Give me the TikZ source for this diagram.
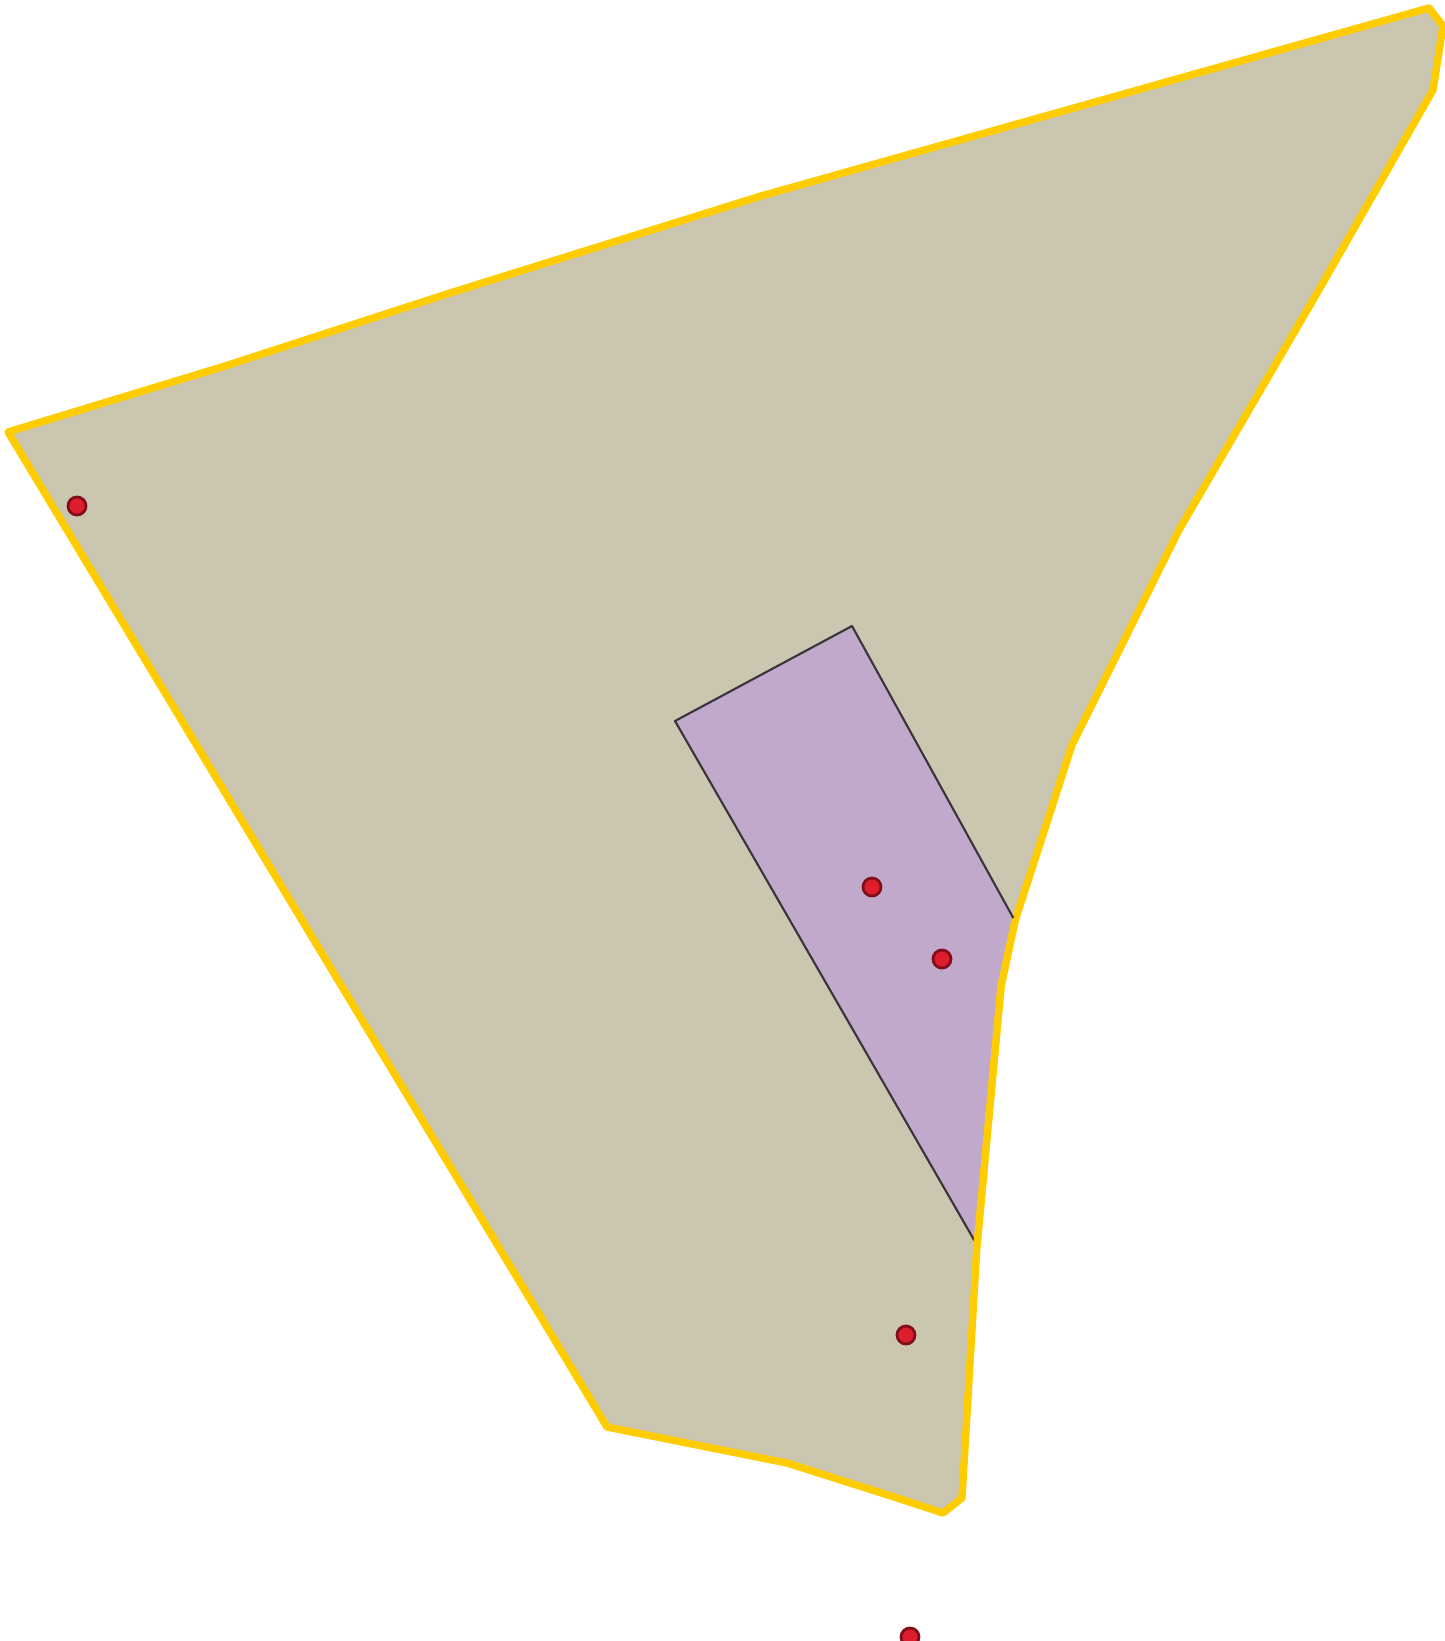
\documentclass[tikz,border=0pt]{standalone}
\usepackage{tikz}

\definecolor{landfill}{RGB}{203,198,175}
\definecolor{landline}{RGB}{255,204,0}
\definecolor{zonefill}{RGB}{193,169,204}
\definecolor{zoneline}{RGB}{58,52,58}
\definecolor{sitefill}{RGB}{222,30,45}
\definecolor{siteline}{RGB}{130,14,28}

\begin{document}
\begin{tikzpicture}[
        x=0.01cm, y=-0.01cm,
        area/.style={fill=landfill, draw=landline, line width=2.1pt, line join=round},
        zone/.style={draw=zoneline, line width=0.6pt, line join=round},
        border/.style={draw=landline, line width=2.1pt, line join=round, line cap=round},
        site/.style={circle, fill=sitefill, draw=siteline, line width=0.8pt, minimum size=0.18cm, inner sep=0pt}
    ]

        % ----------------------------------------------------
        % FRAME
        % ----------------------------------------------------
        \clip (0,0) rectangle (1445,1641);

        % ----------------------------------------------------
        % OUTER AREA
        % ----------------------------------------------------
        \path[area] (8,432) -- (225,366) -- (450,293) -- (761,196) -- (1429,8)
            -- (1443,26) -- (1433,90) -- (1320,288) -- (1179,530) -- (1072,745)
            -- (1015,921) -- (1001,986) -- (977,1245) -- (962,1498) -- (943,1513)
            -- (891,1496) -- (787,1463) -- (607,1427) -- cycle;

        % ----------------------------------------------------
        % INNER ZONE (cut by the area border)
        % ----------------------------------------------------
        \fill[zonefill] (675,721) -- (852,626) -- (1015,921) -- (1001,986) -- (977,1245) -- cycle;
        \draw[zone] (977,1245) -- (675,721) -- (852,626) -- (1015,921);
        \draw[border] (1015,921) -- (1001,986) -- (977,1245);

        % ----------------------------------------------------
        % SITES
        % ----------------------------------------------------
        \node[site] (s1) at (77,506) {};
        \node[site] (s2) at (872,887) {};
        \node[site] (s3) at (942,959) {};
        \node[site] (s4) at (906,1335) {};
        \node[site] (s5) at (910,1637) {};

    \end{tikzpicture}
\end{document}
